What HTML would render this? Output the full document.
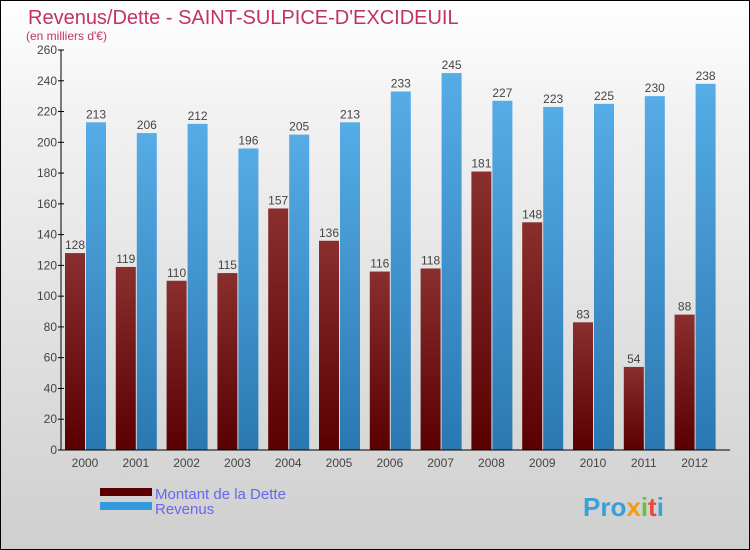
<!DOCTYPE html>
<html><head><meta charset="utf-8"><style>
body{margin:0}
#c{width:750px;height:550px;position:relative;box-sizing:border-box;border:1px solid #000;background:linear-gradient(#ffffff,#f2f2f2 20%,#cfcfcf);font-family:"Liberation Sans",sans-serif;overflow:hidden}
</style></head><body>
<div id="c">
<svg id="s" width="750" height="550" style="position:absolute;left:-1px;top:-1px">
<defs>
<linearGradient id="gd" x1="0" y1="0" x2="0" y2="1"><stop offset="0" stop-color="#8a2e2e"/><stop offset="1" stop-color="#5a0000"/></linearGradient>
<linearGradient id="gr" x1="0" y1="0" x2="0" y2="1"><stop offset="0" stop-color="#56ace6"/><stop offset="1" stop-color="#2a78b2"/></linearGradient>
</defs>
<text x="28" y="24" font-size="20" fill="#c0326a">Revenus/Dette - SAINT-SULPICE-D'EXCIDEUIL</text>
<text x="26" y="40" font-size="12" fill="#c0326a">(en milliers d'€)</text>
<g id="bars"></g>
<g id="axes"></g>
<rect x="100" y="488" width="52" height="8" fill="#5a0000"/>
<rect x="100" y="502" width="52" height="8" fill="#3399dd"/>
<text x="155" y="499" font-size="15" fill="#6666ee">Montant de la Dette</text>
<text x="155" y="514" font-size="15" fill="#6666ee">Revenus</text>
<text x="583" y="516" font-size="26" font-weight="bold" fill="#3aa0d8">Pro<tspan fill="#f39c12">x</tspan><tspan fill="#6bbf3a">i</tspan><tspan fill="#e74c3c">t</tspan><tspan fill="#3aa0d8">i</tspan></text>
</svg>
</div>
<script>
const years=["2000","2001","2002","2003","2004","2005","2006","2007","2008","2009","2010","2011","2012"];
const dette=[128,119,110,115,157,136,116,118,181,148,83,54,88];
const revenus=[213,206,212,196,205,213,233,245,227,223,225,230,238];
const yTicks=[0,20,40,60,80,100,120,140,160,180,200,220,240,260];
const NS="http://www.w3.org/2000/svg";
const y=v=>450-v*400/260;
const xc=i=>85+i*50.8;
function mk(t,a,p){const e=document.createElementNS(NS,t);for(const k in a)e.setAttribute(k,a[k]);p.appendChild(e);return e;}
const bars=document.getElementById('bars'),axes=document.getElementById('axes');
years.forEach((yr,i)=>{
 let r=mk('rect',{x:xc(i)-20,y:y(dette[i]),width:20,height:450-y(dette[i]),fill:'url(#gd)'},bars);
 
 
 let t=mk('text',{x:xc(i)-10,y:y(dette[i])-4,'font-size':12,fill:'#444','text-anchor':'middle'},bars);t.textContent=dette[i];
 
 
 r=mk('rect',{x:xc(i)+1,y:y(revenus[i]),width:20,height:450-y(revenus[i]),fill:'url(#gr)'},bars);
 
 
 t=mk('text',{x:xc(i)+11,y:y(revenus[i])-4,'font-size':12,fill:'#444','text-anchor':'middle'},bars);t.textContent=revenus[i];
 
 
 t=mk('text',{x:xc(i),y:467,'font-size':12,fill:'#444','text-anchor':'middle'},axes);t.textContent=yr;
 
 
});
yTicks.forEach(v=>{
 mk('line',{x1:58,x2:64,y1:y(v),y2:y(v),stroke:'#000'},axes);
 const t=mk('text',{x:57,y:y(v)+4,'font-size':12,fill:'#444','text-anchor':'end'},axes);t.textContent=v;
 
 
});
let l=mk('line',{x1:61,x2:61,y1:50,y2:450,stroke:'#000'},axes);


l=mk('line',{x1:61,x2:730,y1:450,y2:450,stroke:'#000'},axes);


</script>
</body></html>
